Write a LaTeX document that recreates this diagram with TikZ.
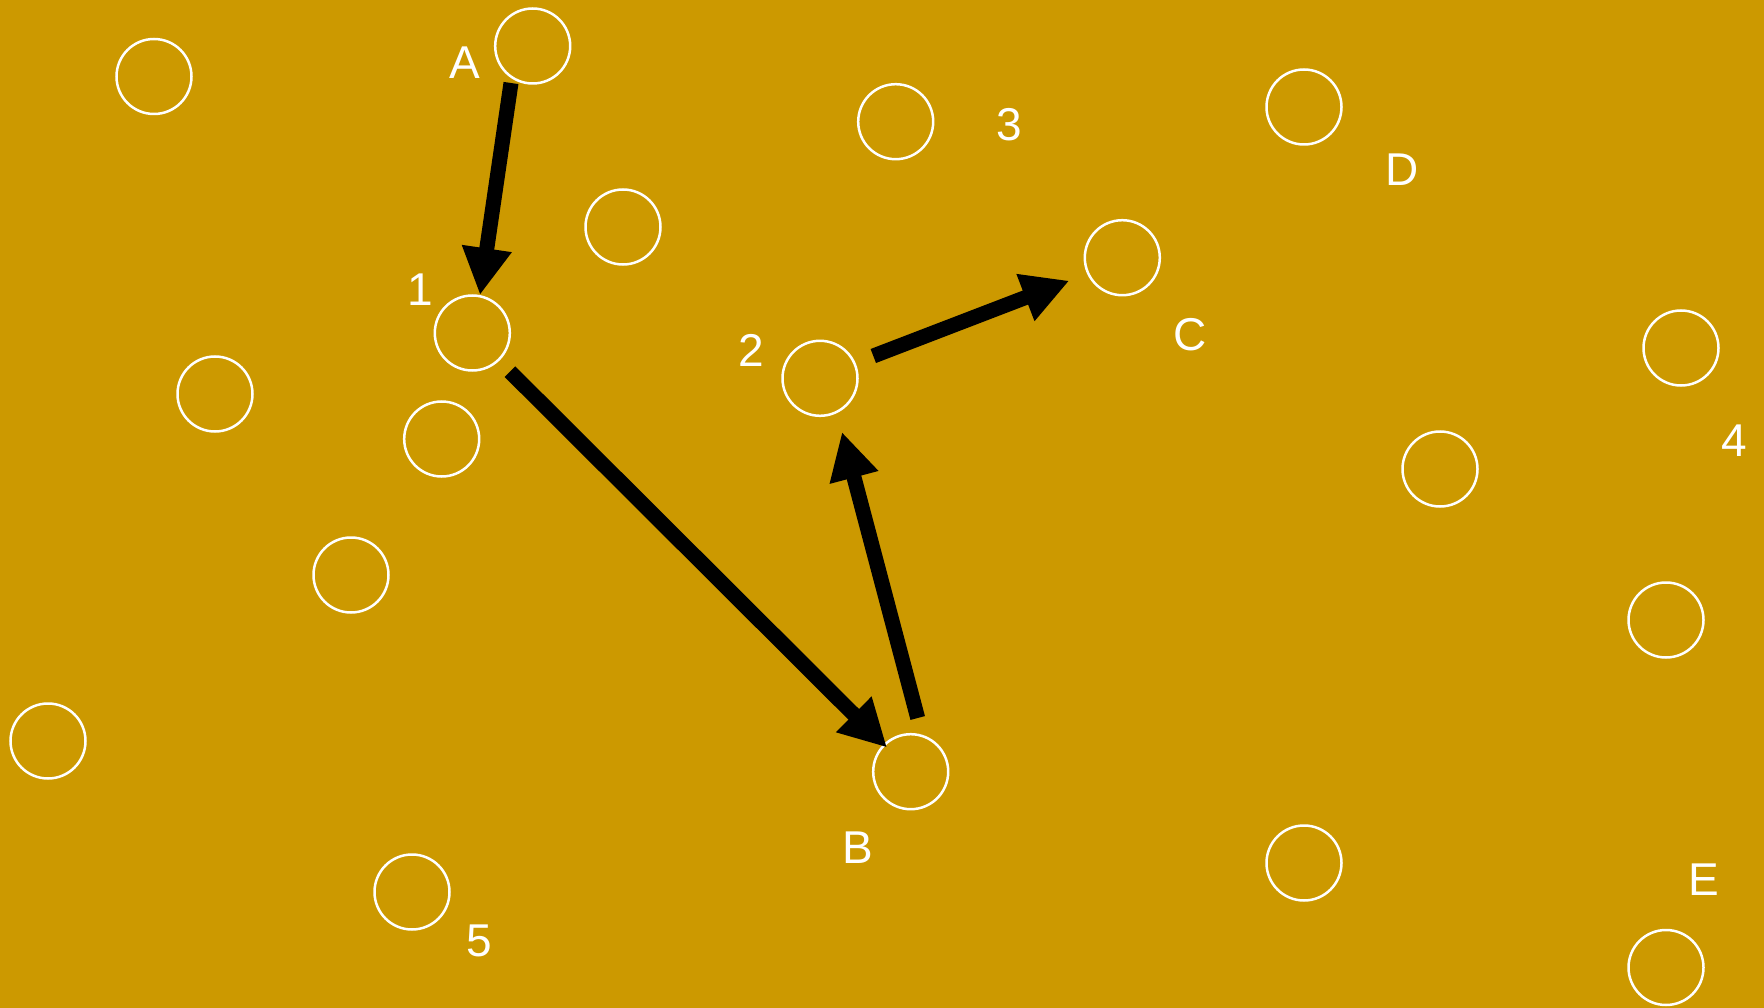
\documentclass[tikz,border=0pt]{standalone}
\usepackage{fontspec}
\setmainfont{Liberation Sans}
\usetikzlibrary{arrows.meta}
\definecolor{bg}{HTML}{CC9900}
\tikzset{
  ring/.style={circle, draw=white, line width=2.5pt, minimum size=75pt, inner sep=0pt},
  lbl/.style={text=white, font=\fontsize{46}{46}\selectfont, inner sep=0pt},
  bigarrow/.style={line width=15pt, draw=black, -{Triangle[length=47pt,width=47pt]}}
}
\begin{document}
\begin{tikzpicture}[x=1pt,y=-1pt]
\fill[bg] (0,0) rectangle (1764,1008);
\useasboundingbox (0,0) rectangle (1764,1008);
% circles
\node[ring] (c1) at (154,76.5) {};
\node[ring] (cA) at (532.7,46) {};
\node[ring] (c3) at (623,227) {};
\node[ring] (c4) at (895.7,121.7) {};
\node[ring] (c5) at (1304,107) {};
\node[ring] (cC) at (1122.3,257.7) {};
\node[ring] (cOne) at (472.3,333) {};
\node[ring] (c8) at (215,394) {};
\node[ring] (c9) at (441.7,439) {};
\node[ring] (cTwo) at (820,378.3) {};
\node[ring] (c11) at (1681,348) {};
\node[ring] (c12) at (1440,469) {};
\node[ring] (c13) at (351,575) {};
\node[ring] (c14) at (1666,620) {};
\node[ring] (c15) at (48,741) {};
\node[ring] (cB) at (910.7,771.7) {};
\node[ring] (c17) at (412,892) {};
\node[ring] (c18) at (1304,863) {};
\node[ring] (c19) at (1666,967.5) {};
% labels
\node[lbl] (lA) at (465,63) {A};
\node[lbl] (l3) at (1009,125) {3};
\node[lbl] (lD) at (1402,170) {D};
\node[lbl] (l1) at (420,290) {1};
\node[lbl] (lC) at (1190,335) {C};
\node[lbl] (l2) at (751,350.7) {2};
\node[lbl] (l4) at (1734,441) {4};
\node[lbl] (lB) at (858,848) {B};
\node[lbl] (lE) at (1704,880) {E};
\node[lbl] (l5) at (479,940.5) {5};
% arrow endpoints
\coordinate (a1s) at (511,83);
\coordinate (a1e) at (480,295);
\coordinate (a2s) at (510,371.7);
\coordinate (a2e) at (887,747.5);
\coordinate (a3s) at (917.7,718);
\coordinate (a3e) at (842,432);
\coordinate (a4s) at (873.3,356);
\coordinate (a4e) at (1069.3,280.7);
\draw[bigarrow] (a1s) -- (a1e);
\draw[bigarrow] (a2s) -- (a2e);
\draw[bigarrow] (a3s) -- (a3e);
\draw[bigarrow] (a4s) -- (a4e);
\end{tikzpicture}
\end{document}
